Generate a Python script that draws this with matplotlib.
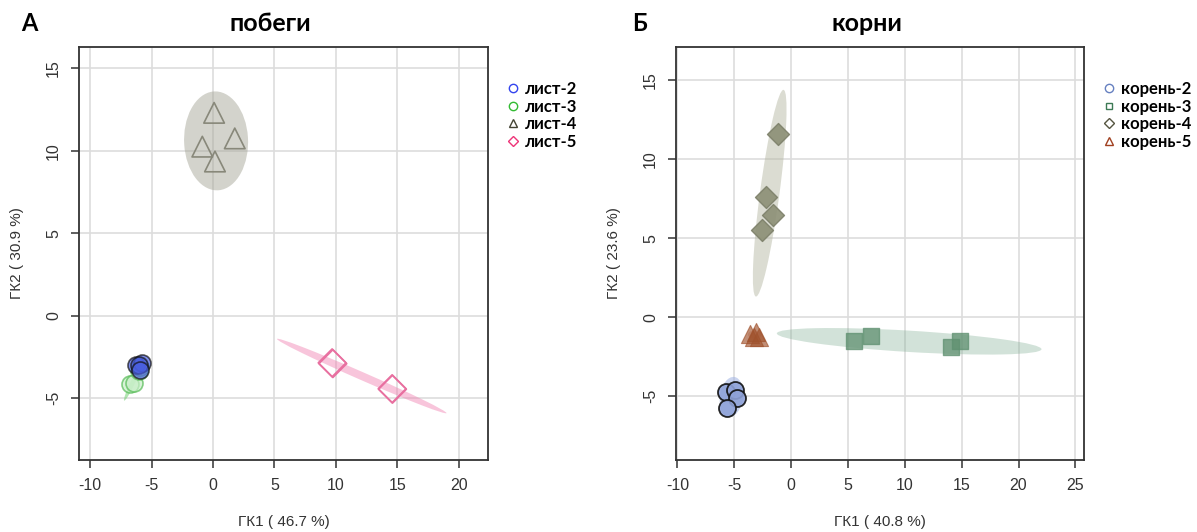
import matplotlib
matplotlib.use("Agg")
import matplotlib.pyplot as plt
from matplotlib.patches import Ellipse
from matplotlib.lines import Line2D

plt.rcParams['font.family'] = ['Liberation Sans', 'DejaVu Sans']

# --- shoots (побеги) ---
leaf_groups = ['лист-2', 'лист-3', 'лист-4', 'лист-5']
leaf2_x = [-6.3, -5.75, -6.0, -5.95]
leaf2_y = [-3.0, -2.85, -2.97, -3.3]
leaf3_x = [-6.77, -6.46, -6.0, -5.9]
leaf3_y = [-4.16, -4.1, -3.35, -3.1]
leaf4_x = [0.09, -0.87, 1.77, 0.16]
leaf4_y = [12.3, 10.25, 10.75, 9.35]
leaf5_x = [9.69, 9.75, 14.57, 14.6]
leaf5_y = [-2.85, -2.9, -4.42, -4.45]

# ellipses: centre x, centre y, width, height, angle (data units)
leaf_ell = [(-6.0, -3.1, 0.9, 0.6, 40),
            (-6.5, -4.0, 2.7, 0.35, 57.4),
            (0.25, 10.6, 5.2, 6.0, 5),
            (12.1, -3.65, 14.5, 0.5, -18.05)]

# --- roots (корни) ---
root_groups = ['корень-2', 'корень-3', 'корень-4', 'корень-5']
root2_x = [-5.7, -4.97, -4.77, -5.6]
root2_y = [-4.76, -4.6, -5.12, -5.72]
root3_x = [5.57, 7.0, 14.07, 14.87]
root3_y = [-1.48, -1.19, -1.86, -1.54]
root4_x = [-1.17, -2.23, -1.63, -2.57]
root4_y = [11.61, 7.63, 6.47, 5.51]
root5_x = [-3.6, -3.1, -3.3, -2.8]
root5_y = [-1.05, -0.95, -1.25, -1.25]

root_ell = [(-5.25, -5.05, 2.6, 2.0, 70),
            (10.38, -1.53, 23.3, 1.35, -2.46),
            (-1.885, 7.84, 13.3, 1.7, 79.4),
            (-3.2, -1.1, 1.2, 0.5, 0)]

fig = plt.figure(figsize=(11.97, 5.32), dpi=100)
ax1 = fig.add_axes([0.066, 0.135, 0.342, 0.777])
ax2 = fig.add_axes([0.565, 0.135, 0.341, 0.777])


def style_axes(ax, xticks, yticks, xlim, ylim):
    ax.set_xlim(*xlim)
    ax.set_ylim(*ylim)
    ax.set_xticks(xticks)
    ax.set_yticks(yticks)
    ax.set_xticklabels([str(t) for t in xticks])
    ax.set_yticklabels([str(t) for t in yticks], rotation=90, va='center')
    ax.grid(True, color='#dddddd', lw=1.2)
    ax.set_axisbelow(True)
    for s in ax.spines.values():
        s.set_color('#333333')
        s.set_linewidth(1.3)
    ax.tick_params(direction='out', length=6, width=1.1, color='#333333',
                   labelsize=11.5, labelcolor='#333333', pad=7)


def add_ellipses(ax, ells, colors, alphas):
    for (cx, cy, w, h, a), c, al in zip(ells, colors, alphas):
        ax.add_patch(Ellipse((cx, cy), w, h, angle=a, facecolor=c,
                             edgecolor='none', alpha=al, zorder=1))


# left panel
add_ellipses(ax1, leaf_ell, ['#6677dd', '#66cc66', '#a8a89a', '#f080b0'],
             [0.3, 0.5, 0.5, 0.45])
ax1.scatter(leaf3_x, leaf3_y, s=150, marker='o', facecolor='#c8eec8',
            edgecolor='#55bb55', alpha=0.7, lw=1.2, zorder=3)
ax1.scatter(leaf2_x, leaf2_y, s=150, marker='o', facecolor='#4a5fe0',
            edgecolor='#111111', alpha=0.7, lw=1.2, zorder=4)
ax1.scatter(leaf4_x, leaf4_y, s=220, marker='^', facecolor='none',
            edgecolor='#88887a', lw=1.2, zorder=3)
ax1.scatter(leaf5_x, leaf5_y, s=200, marker='D', facecolor='none',
            edgecolor='#e870a0', lw=1.2, zorder=3)
style_axes(ax1, [-10, -5, 0, 5, 10, 15, 20], [-5, 0, 5, 10, 15],
           (-10.9, 22.4), (-8.75, 16.3))
ax1.set_xlabel('ГК1 ( 46.7 %)', fontsize=11, color='#333333', labelpad=16)
ax1.set_ylabel('ГК2 ( 30.9 %)', fontsize=11, color='#333333', labelpad=16)

# right panel
add_ellipses(ax2, root_ell, ['#9fb2e2', '#7fae92', '#b8baa6', '#c07050'],
             [0.55, 0.35, 0.5, 0.3])
ax2.scatter(root2_x, root2_y, s=150, marker='o', facecolor='#8fa2d8',
            edgecolor='#111111', alpha=0.9, lw=1.3, zorder=3)
ax2.scatter(root3_x, root3_y, s=130, marker='s', facecolor='#5f9070',
            edgecolor='#5f9070', alpha=0.75, lw=1, zorder=3)
ax2.scatter(root4_x, root4_y, s=125, marker='D', facecolor='#8c8f75',
            edgecolor='#7d806a', alpha=0.9, lw=1, zorder=3)
ax2.scatter(root5_x, root5_y, s=170, marker='^', facecolor='#a0522d',
            edgecolor='#a0522d', alpha=0.65, lw=0.8, zorder=3)
style_axes(ax2, [-10, -5, 0, 5, 10, 15, 20, 25], [-5, 0, 5, 10, 15],
           (-10.1, 25.8), (-9.05, 17.1))
ax2.set_xlabel('ГК1 ( 40.8 %)', fontsize=11, color='#333333', labelpad=16)
ax2.set_ylabel('ГК2 ( 23.6 %)', fontsize=11, color='#333333', labelpad=16)

# titles and panel letters
fig.text(0.226, 0.955, 'побеги', fontsize=18, fontweight='bold',
         family='Lato', ha='center', va='center')
fig.text(0.724, 0.955, 'корни', fontsize=18, fontweight='bold',
         family='Lato', ha='center', va='center')
fig.text(0.018, 0.955, 'А', fontsize=17, fontweight='bold',
         family='Lato', ha='left', va='center')
fig.text(0.528, 0.955, 'Б', fontsize=17, fontweight='bold',
         family='Lato', ha='left', va='center')

# legends
leaf_handles = [
    Line2D([], [], ls='none', marker='o', mfc='none', mec='#3344ee', ms=6),
    Line2D([], [], ls='none', marker='o', mfc='none', mec='#33bb33', ms=6),
    Line2D([], [], ls='none', marker='^', mfc='none', mec='#444433', ms=6),
    Line2D([], [], ls='none', marker='D', mfc='none', mec='#ee3377', ms=5),
]
root_handles = [
    Line2D([], [], ls='none', marker='o', mfc='none', mec='#6680c0', ms=6),
    Line2D([], [], ls='none', marker='s', mfc='none', mec='#3d7a55', ms=5),
    Line2D([], [], ls='none', marker='D', mfc='none', mec='#555540', ms=5),
    Line2D([], [], ls='none', marker='^', mfc='none', mec='#a04020', ms=6),
]
for handles, labels, x in [(leaf_handles, leaf_groups, 0.423),
                           (root_handles, root_groups, 0.921)]:
    fig.legend(handles, labels, loc='upper left', bbox_to_anchor=(x, 0.848),
               frameon=False, handlelength=0.8, handletextpad=0.3,
               labelspacing=0.1, borderpad=0, borderaxespad=0,
               prop={'family': 'Lato', 'weight': 'bold', 'size': 12})

fig.savefig('out.png', dpi=100)
